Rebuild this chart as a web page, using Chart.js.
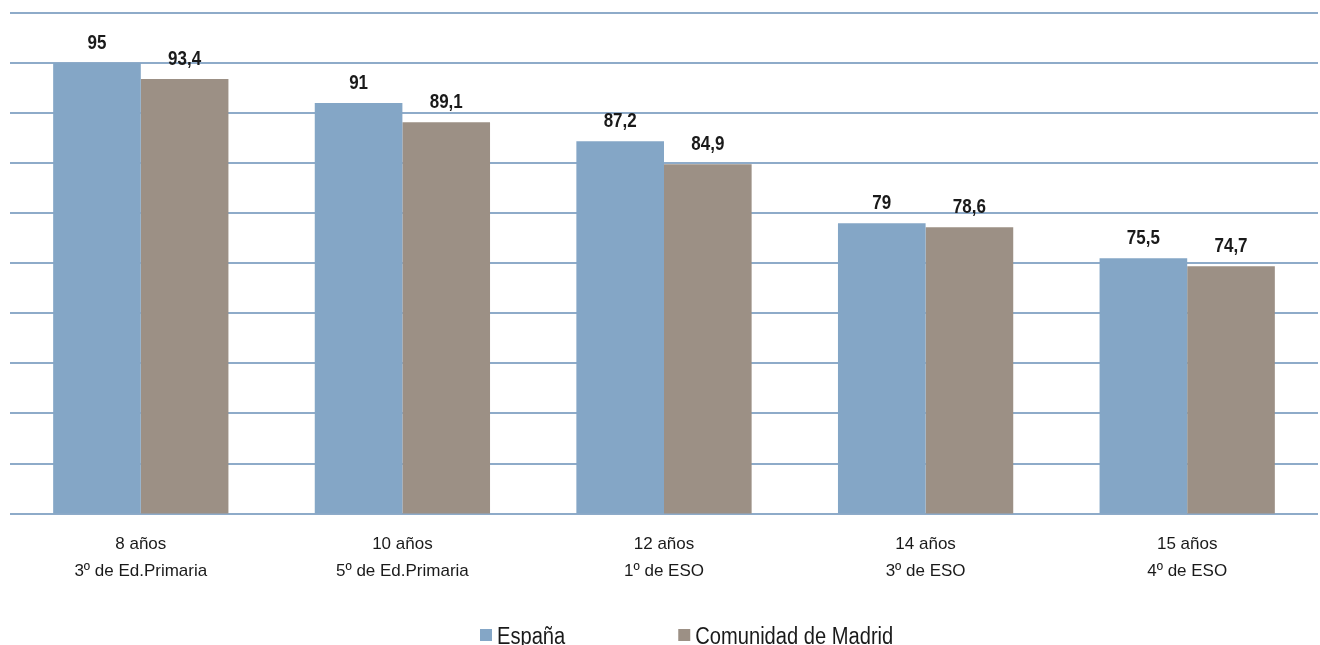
<!DOCTYPE html>
<html>
<head>
<meta charset="utf-8">
<script src="https://cdn.jsdelivr.net/npm/chart.js@4"></script>
<style>
  html, body { margin: 0; padding: 0; background: #fff; }
  #wrap { width: 1320px; height: 645px; }
</style>
</head>
<body>
<div id="wrap"><canvas id="barChart"></canvas></div>
<script>
const categorias = [["8 años", "3º de Ed.Primaria"], ["10 años", "5º de Ed.Primaria"], ["12 años", "1º de ESO"], ["14 años", "3º de ESO"], ["15 años", "4º de ESO"]];
const espana = [95, 91, 87.2, 79, 75.5];
const madrid = [93.4, 89.1, 84.9, 78.6, 74.7];
const yTicks = [50, 100, 5]; // min, max, step

const FONT = "'Liberation Sans', Arial, sans-serif";

// etiquetas de valor encima de cada barra (letra algo estrecha)
const valueLabels = {
    id: 'valueLabels',
    afterDatasetsDraw(chart) {
        const ctx = chart.ctx;
        chart.data.datasets.forEach((ds, i) => {
            chart.getDatasetMeta(i).data.forEach((bar, j) => {
                ctx.save();
                ctx.translate(bar.x, bar.y - 14);
                ctx.scale(0.85, 1);
                ctx.font = "bold 20px " + FONT;
                ctx.fillStyle = "#1a1a1a";
                ctx.textAlign = "center";
                ctx.textBaseline = "alphabetic";
                ctx.fillText(String(ds.data[j]).replace('.', ','), 0, 0);
                ctx.restore();
            });
        });
    }
};

// leyenda abajo, dibujada a mano para separar bien los dos elementos
const bottomLegend = {
    id: 'bottomLegend',
    afterDraw(chart) {
        const ctx = chart.ctx;
        let x = 480;
        const y = 644;
        chart.data.datasets.forEach((ds) => {
            ctx.save();
            ctx.fillStyle = ds.backgroundColor;
            ctx.fillRect(x, 629, 12, 12);
            ctx.translate(x + 17, y);
            ctx.scale(0.875, 1);
            ctx.font = "23px " + FONT;
            ctx.fillStyle = "#1a1a1a";
            ctx.textBaseline = "alphabetic";
            ctx.fillText(ds.label, 0, 0);
            const w = ctx.measureText(ds.label).width * 0.875;
            ctx.restore();
            x += 17 + w + 113;
        });
    }
};

function drawBarChart() {
    "use strict";
    let ctx = document.getElementById("barChart");
    let barChart = new Chart(ctx, {
        type: 'bar',
        data: {
            labels: categorias,
            datasets: [{
                label: 'España',
                backgroundColor: "#84a6c6",
                data: espana
            }, {
                label: 'Comunidad de Madrid',
                backgroundColor: "#9c9085",
                data: madrid
            }]
        },
        options: {
            responsive: true,
            maintainAspectRatio: false,
            animation: false,
            layout: { padding: { top: 13, left: 10, right: 2, bottom: 51 } },
            datasets: { bar: { categoryPercentage: 0.67, barPercentage: 1 } },
            plugins: {
                tooltip: { enabled: false },
                legend: { display: false }
            },
            scales: {
                x: {
                    grid: { display: false },
                    border: { display: false },
                    ticks: {
                        font: { family: FONT, size: 17, lineHeight: 1.6 },
                        color: "#1a1a1a",
                        padding: 9
                    }
                },
                y: {
                    min: yTicks[0],
                    max: yTicks[1],
                    ticks: { stepSize: yTicks[2], display: false },
                    grid: { color: "#8eabc9", lineWidth: 2, drawTicks: false },
                    border: { display: false }
                }
            }
        },
        plugins: [valueLabels, bottomLegend]
    });
}
drawBarChart();
</script>
</body>
</html>
